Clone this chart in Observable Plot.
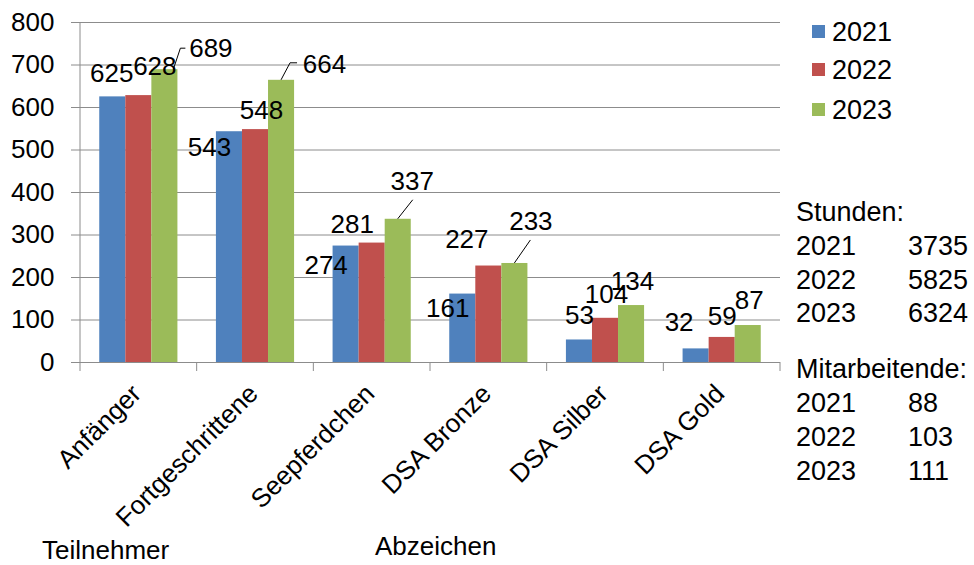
<!DOCTYPE html>
<html>
<head>
<meta charset="utf-8">
<script src="https://cdn.jsdelivr.net/npm/d3@7"></script>
<script src="https://cdn.jsdelivr.net/npm/@observablehq/plot@0.6"></script>
<style>
  body { margin: 0; background: #fff; }
  #wrap { position: relative; width: 974px; height: 565px; }
</style>
</head>
<body>
<div id="wrap"></div>
<script>
// ---- data ----
const categories = ["Anfänger", "Fortgeschrittene", "Seepferdchen", "DSA Bronze", "DSA Silber", "DSA Gold"];
const years = ["2021", "2022", "2023"];
const values2021 = [625, 543, 274, 161, 53, 32];
const values2022 = [628, 548, 281, 227, 104, 59];
const values2023 = [689, 664, 337, 233, 134, 87];
const yTicks = [0, 100, 200, 300, 400, 500, 600, 700, 800];
const infoYears = ["2021", "2022", "2023"];
const stunden = [3735, 5825, 6324];
const mitarbeitende = [88, 103, 111];
const xTitle = "Abzeichen";
const yTitle = "Teilnehmer";

// ---- layout / style (kept apart from the data) ----
const colors = ["#4F81BD", "#C0504D", "#9BBB59"];
const gridColor = "#8c8c8c";
const FONT = "Arial, 'Liberation Sans', sans-serif";
const FS = 26;
const W = 974, H = 565;
const mL = 80, mR = 194, mT = 22, mB = 203;
const padInner = 0.33, padOuter = 0.165;
const stepPx = (W - mL - mR) / categories.length;
const bandPx = stepPx * (1 - padInner);
const barW = bandPx / years.length;
// pixel nudges for the value labels (relative to the bar top centre), as in the original
const labelNudge = [
  [[-1, -23], [-20, 16], [-20, 20], [-15, 15], [0, -24], [-17, -26]],
  [[16, -29], [6, -19], [-20, -18], [-22, -26], [1, -24], [0, -21]],
  [[46, -21], [43, -16], [14, -38], [16, -42], [1, -24], [1, -25]]
];
// leader lines (pixel offsets from bar top centre)
const leaders = [
  {s: 2, i: 0, pts: [[9, 0], [16, -21], [21, -21]]},
  {s: 2, i: 1, pts: [[0, 0], [9, -17], [16, -17]]},
  {s: 2, i: 2, pts: [[0, 0], [15, -19]]},
  {s: 2, i: 3, pts: [[0, 0], [16, -23]]}
];

const series = [values2021, values2022, values2023];

const labelMarks = [];
series.forEach((vals, s) => {
  vals.forEach((v, i) => {
    labelMarks.push(Plot.text([{c: categories[i], v}], {
      x: "c", y: "v", text: d => String(d.v),
      dx: (s - 1) * barW + labelNudge[s][i][0],
      dy: labelNudge[s][i][1],
      fill: "#000", fontSize: FS, fontFamily: FONT
    }));
  });
});

const chart = Plot.plot({
  width: W, height: H,
  marginLeft: mL, marginRight: mR, marginTop: mT, marginBottom: mB,
  style: {fontFamily: FONT, fontSize: FS + "px", background: "#fff", color: "#000", overflow: "visible"},
  x: {type: "band", domain: categories, paddingInner: padInner, paddingOuter: padOuter, round: false, label: null},
  y: {domain: [0, 800], label: null},
  marks: [
    Plot.gridY({ticks: yTicks, stroke: gridColor, strokeOpacity: 1}),
    Plot.axisY({ticks: yTicks, tickSize: 9, tickPadding: 17, tickFormat: d => String(d), stroke: gridColor, fill: "#000", fontSize: FS, fontFamily: FONT, label: null}),
    Plot.axisX({tickRotate: -45, tickSize: 0, tickPadding: 27, dx: -2, fill: "#000", fontSize: FS, fontFamily: FONT, label: null}),
    ...series.map((vals, s) => Plot.barY(categories, {
      x: c => c, y: (c, i) => vals[i], fill: colors[s],
      insetLeft: s * barW, insetRight: (years.length - 1 - s) * barW
    })),
    Plot.ruleY([0], {stroke: gridColor}),
    ...labelMarks
  ]
});

document.getElementById("wrap").appendChild(chart);

// ---- additions using the plot's own scales ----
const svg = d3.select(chart);
const xs = chart.scale("x"), ys = chart.scale("y");
const bw = xs.bandwidth;
const step = xs.step || bw / (1 - padInner);
const y0 = ys.apply(0);
const yTop = ys.apply(800);
const g = svg.append("g").attr("text-anchor", "start").attr("font-family", FONT).attr("fill", "#000");

// y axis line
g.append("line").attr("x1", mL).attr("x2", mL).attr("y1", yTop).attr("y2", y0)
  .attr("stroke", gridColor);
// category boundary ticks
for (let k = 0; k <= categories.length; k++) {
  const start = k < categories.length ? xs.apply(categories[k]) : xs.apply(categories[k - 1]) + step;
  const xk = start - (step - bw) / 2;
  g.append("line").attr("x1", xk).attr("x2", xk).attr("y1", y0).attr("y2", y0 + 9)
    .attr("stroke", gridColor);
}
// leader lines
leaders.forEach(({s, i, pts}) => {
  const bx = xs.apply(categories[i]) + bw / 2 + (s - 1) * barW;
  const by = ys.apply(series[s][i]);
  g.append("path")
    .attr("d", "M" + pts.map(([dx, dy]) => (bx + dx) + "," + (by + dy)).join("L"))
    .attr("fill", "none").attr("stroke", "#000").attr("stroke-width", 1);
});

// axis titles
g.append("text").attr("x", 42).attr("y", 559).attr("font-size", FS).text(yTitle);
g.append("text").attr("x", 375).attr("y", 555).attr("font-size", FS).text(xTitle);

// legend
years.forEach((yr, s) => {
  const base = [41, 79, 119][s];
  g.append("rect").attr("x", 812).attr("y", base - 16).attr("width", 13).attr("height", 13).attr("fill", colors[s]);
  g.append("text").attr("x", 832).attr("y", base).attr("font-size", 27).text(yr);
});

// info block
const infoFont = 27;
g.append("text").attr("x", 796).attr("y", 221).attr("font-size", infoFont).text("Stunden:");
infoYears.forEach((yr, k) => {
  const b = 255 + k * 33.5;
  g.append("text").attr("x", 796).attr("y", b).attr("font-size", infoFont).text(yr);
  g.append("text").attr("x", 908).attr("y", b).attr("font-size", infoFont).text(String(stunden[k]));
});
g.append("text").attr("x", 796).attr("y", 378).attr("font-size", infoFont).text("Mitarbeitende:");
infoYears.forEach((yr, k) => {
  const b = 412 + k * 34;
  g.append("text").attr("x", 796).attr("y", b).attr("font-size", infoFont).text(yr);
  g.append("text").attr("x", 908).attr("y", b).attr("font-size", infoFont).text(String(mitarbeitende[k]));
});
</script>
</body>
</html>
